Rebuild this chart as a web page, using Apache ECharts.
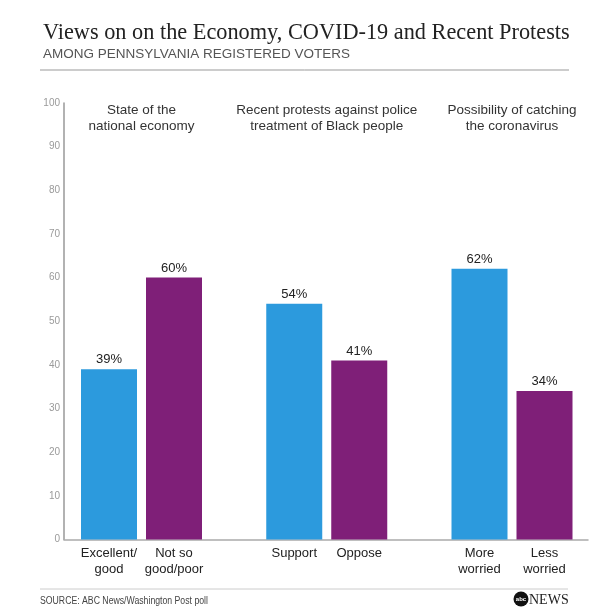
<!DOCTYPE html>
<html>
<head>
<meta charset="utf-8">
<script src="https://cdn.jsdelivr.net/npm/echarts@6/dist/echarts.min.js"></script>
<style>
html,body{margin:0;padding:0;background:#fff;}
#c{width:608px;height:608px;}
</style>
</head>
<body>
<div id="c"></div>
<script>
const groupTitles = ['State of the\nnational economy', 'Recent protests against police\ntreatment of Black people', 'Possibility of catching\nthe coronavirus'];
const categories = [['Excellent/\ngood', 'Not so\ngood/poor'], ['Support', 'Oppose'], ['More\nworried', 'Less\nworried']];
const values = [[39, 60], [54, 41], [62, 34]];
const barColors = ['#2C9ADD', '#7F1F78'];
const yMin = 0, yMax = 100, yInterval = 10;

const chart = echarts.init(document.getElementById('c'));

const TOP = 103, BOTTOM = 68.5;
const groupLefts = [76.5, 261.75, 447];
const slotW = 65;

const grids = [{left: 64, right: 20, top: TOP, bottom: BOTTOM}];
const xAxes = [{
  gridIndex: 0, type: 'category', data: [''],
  axisLine: {show: true, lineStyle: {color: '#aaaaaa', width: 1.5}},
  axisTick: {show: false}, axisLabel: {show: false}
}];
const yAxes = [{
  gridIndex: 0, type: 'value', min: yMin, max: yMax, interval: yInterval,
  axisLine: {show: true, lineStyle: {color: '#999999', width: 1.5}},
  axisTick: {show: false},
  splitLine: {show: false},
  axisLabel: {color: '#9a9a9a', fontSize: 10, margin: 4, fontFamily: 'Liberation Sans'}
}];
const series = [];
const graphics = [];

values.forEach((vals, g) => {
  const gi = g + 1;
  grids.push({left: groupLefts[g], width: slotW * 2, top: TOP, bottom: BOTTOM});
  xAxes.push({
    gridIndex: gi, type: 'category', data: categories[g],
    axisLine: {show: false}, axisTick: {show: false},
    axisLabel: {color: '#222', fontSize: 13, margin: 6, lineHeight: 16, fontFamily: 'Liberation Sans', interval: 0}
  });
  yAxes.push({gridIndex: gi, type: 'value', min: yMin, max: yMax, show: false});
  series.push({
    type: 'bar', xAxisIndex: gi, yAxisIndex: gi,
    barWidth: 56,
    data: vals.map((v, i) => ({value: v, itemStyle: {color: barColors[i]}})),
    label: {show: true, position: 'top', distance: 3, formatter: '{c}%', color: '#222', fontSize: 13, fontFamily: 'Liberation Sans'}
  });
  graphics.push({
    type: 'text', x: groupLefts[g] + slotW, y: 102,
    style: {text: groupTitles[g], textAlign: 'center', textVerticalAlign: 'top', fill: '#333', font: '13.5px "Liberation Sans"', lineHeight: 16}
  });
});

graphics.push(
  {type: 'line', shape: {x1: 40, y1: 70, x2: 569, y2: 70}, style: {stroke: '#999', lineWidth: 1}},
  {type: 'line', shape: {x1: 40, y1: 589, x2: 568, y2: 589}, style: {stroke: '#cccccc', lineWidth: 1}},
  {type: 'text', x: 40, y: 601, scaleX: 0.87, style: {text: 'SOURCE: ABC News/Washington Post poll', textVerticalAlign: 'middle', fill: '#444', font: '10px "Liberation Sans"'}},
  {type: 'circle', shape: {cx: 521, cy: 599, r: 7.5}, style: {fill: '#111'}},
  {type: 'text', x: 521, y: 599, style: {text: 'abc', textAlign: 'center', textVerticalAlign: 'middle', fill: '#fff', font: 'bold 6px "Liberation Sans"'}},
  {type: 'text', x: 529, y: 600, style: {text: 'NEWS', textVerticalAlign: 'middle', fill: '#222', font: '14px "Liberation Serif"'}}
);

chart.setOption({
  backgroundColor: '#fff',
  animation: false,
  title: {
    text: 'Views on on the Economy, COVID-19 and Recent Protests',
    subtext: 'AMONG PENNSYLVANIA REGISTERED VOTERS',
    left: 38, top: 17,
    itemGap: 3,
    textStyle: {fontFamily: 'Liberation Serif', fontWeight: 'normal', fontSize: 22.3, color: '#222'},
    subtextStyle: {fontFamily: 'Liberation Sans', fontSize: 13.5, color: '#555'}
  },
  grid: grids,
  xAxis: xAxes,
  yAxis: yAxes,
  series: series,
  graphic: graphics
});
</script>
</body>
</html>
